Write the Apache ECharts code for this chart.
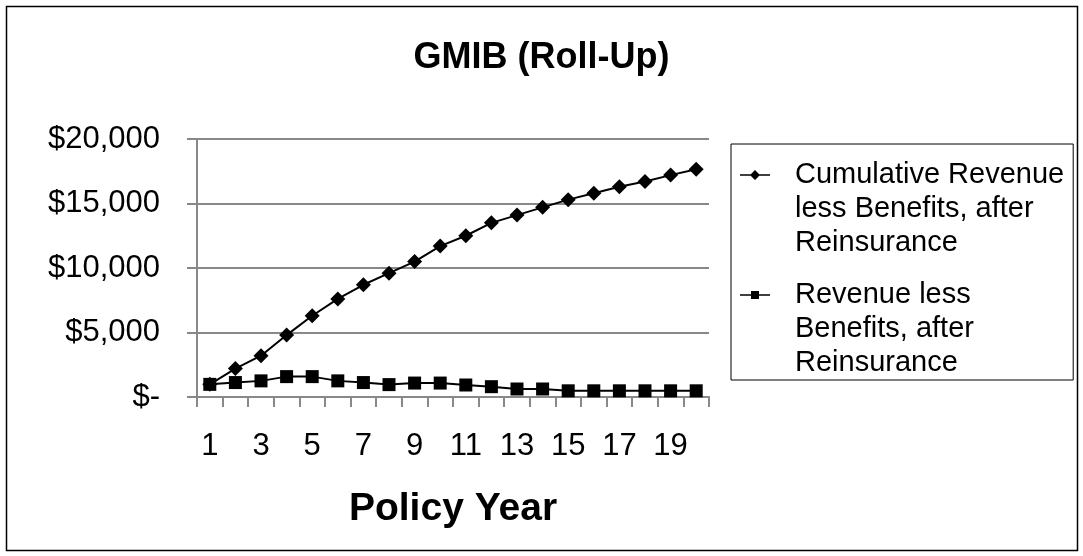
<!DOCTYPE html>
<html>
<head>
<meta charset="utf-8">
<script src="https://cdn.jsdelivr.net/npm/echarts@6/dist/echarts.min.js"></script>
<style>
html,body{margin:0;padding:0;background:#fff;}
#chart{width:1083px;height:556px;}
</style>
</head>
<body>
<div id="chart"></div>
<script>
const titleText = 'GMIB (Roll-Up)';
const xAxisTitle = 'Policy Year';
const policyYears = ['1','2','3','4','5','6','7','8','9','10','11','12','13','14','15','16','17','18','19','20'];
const cumulativeName = 'Cumulative Revenue\nless Benefits, after\nReinsurance';
const annualName = 'Revenue less\nBenefits, after\nReinsurance';
const cumulativeValues = [980, 2200, 3200, 4800, 6300, 7600, 8700, 9600, 10500, 11700, 12500, 13500, 14100, 14700, 15300, 15800, 16300, 16700, 17200, 17650];
const annualValues = [980, 1120, 1250, 1580, 1580, 1250, 1120, 960, 1080, 1080, 930, 800, 620, 620, 480, 480, 480, 480, 480, 480];
const yTicks = [0, 5000, 10000, 15000, 20000];

const FONT = "'Liberation Sans', Arial, sans-serif";
const GRAY = '#888888';

// legend icons: short line with marker on the first text line (box 50 x 79)
const diamondIcon = 'path://M0,0M50,79M0,4.75L30,4.75L30,6.25L0,6.25ZM15,0.5L20,5.5L15,10.5L10,5.5Z';
const squareIcon = 'path://M0,0M50,79M0,4.75L30,4.75L30,6.25L0,6.25ZM11,1.5L19,1.5L19,9.5L11,9.5Z';

const chart = echarts.init(document.getElementById('chart'), null, {renderer: 'canvas'});

function fmtDollar(v) {
  if (v === 0) return '$-';
  return '$' + v.toString().replace(/\B(?=(\d{3})+(?!\d))/g, ',');
}

chart.setOption({
  animation: false,
  backgroundColor: '#fff',
  title: {
    text: titleText,
    left: 'center',
    top: 35,
    textStyle: {fontFamily: FONT, fontSize: 36, fontWeight: 'bold', color: '#000'}
  },
  graphic: [{
    type: 'rect',
    shape: {x: 6.5, y: 6.5, width: 1071, height: 544},
    style: {fill: 'none', stroke: '#000', lineWidth: 1.5},
    silent: true
  }],
  grid: {left: 197, right: 374, top: 139, bottom: 159},
  legend: {
    orient: 'vertical',
    left: 731,
    top: 144,
    itemWidth: 50,
    itemHeight: 79,
    itemGap: 18,
    padding: [14, 9, 0, 9],
    borderColor: '#000',
    borderWidth: 1,
    backgroundColor: '#fff',
    itemStyle: {borderWidth: 0},
    textStyle: {fontFamily: FONT, fontSize: 29, color: '#000', lineHeight: 34},
    data: [
      {name: cumulativeName, icon: diamondIcon},
      {name: annualName, icon: squareIcon}
    ]
  },
  xAxis: {
    type: 'category',
    data: policyYears,
    boundaryGap: true,
    name: xAxisTitle,
    nameLocation: 'middle',
    nameGap: 93,
    nameTextStyle: {fontFamily: FONT, fontSize: 39, fontWeight: 'bold', color: '#000'},
    axisLine: {show: true, lineStyle: {color: GRAY, width: 2}},
    axisTick: {show: true, interval: 0, length: 10, alignWithLabel: false, lineStyle: {color: GRAY, width: 2}},
    axisLabel: {interval: 1, margin: 34, fontFamily: FONT, fontSize: 31, color: '#000'},
    splitLine: {show: false}
  },
  yAxis: {
    type: 'value',
    min: yTicks[0],
    max: yTicks[yTicks.length - 1],
    interval: yTicks[1] - yTicks[0],
    axisLine: {show: true, lineStyle: {color: GRAY, width: 2}},
    axisTick: {show: true, length: 10, lineStyle: {color: GRAY, width: 2}},
    axisLabel: {margin: 37, fontFamily: FONT, fontSize: 31, color: '#000', formatter: fmtDollar},
    splitLine: {show: true, lineStyle: {color: GRAY, width: 2}}
  },
  series: [
    {
      name: cumulativeName,
      type: 'line',
      data: cumulativeValues,
      symbol: 'diamond',
      symbolSize: 15,
      lineStyle: {color: '#000', width: 2},
      itemStyle: {color: '#000'},
      z: 3
    },
    {
      name: annualName,
      type: 'line',
      data: annualValues,
      symbol: 'rect',
      symbolSize: 13,
      lineStyle: {color: '#000', width: 2},
      itemStyle: {color: '#000'},
      z: 2
    }
  ]
});
</script>
</body>
</html>
